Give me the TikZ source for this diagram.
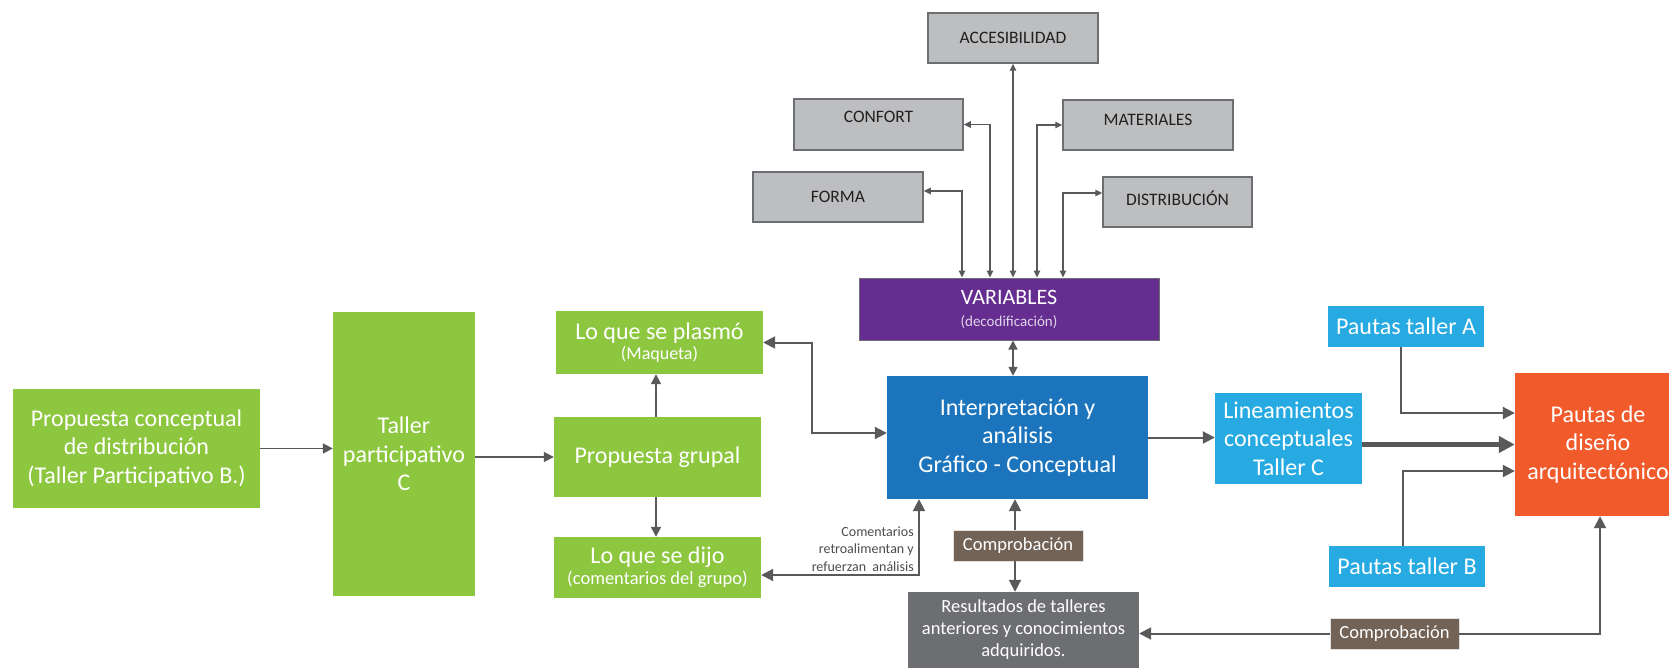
\documentclass[tikz,border=0pt]{standalone}
\usepackage{fontspec}
\setmainfont{Carlito}
\usetikzlibrary{arrows.meta,calc}
\definecolor{cgreen}{HTML}{8DC63F}
\definecolor{cpurple}{HTML}{662D91}
\definecolor{cblue}{HTML}{1C75BC}
\definecolor{clight}{HTML}{27AAE1}
\definecolor{corange}{HTML}{F15A2B}
\definecolor{cgray}{HTML}{BCBEC0}
\definecolor{cborder}{HTML}{6D6E71}
\definecolor{cbrown}{HTML}{736357}
\definecolor{cdark}{HTML}{6D6E71}
\definecolor{carrow}{HTML}{58595B}
\definecolor{ctext}{HTML}{231F20}
\begin{document}
\begin{tikzpicture}[x=1pt,y=-1pt,
  box/.style={inner sep=0pt, align=center, text=white, font=\fontsize{24}{28.5}\selectfont},
  graybox/.style={inner sep=0pt, align=center, fill=cgray, draw=cborder, line width=1.5pt, text=ctext, font=\fontsize{17.5}{20}\selectfont},
  tagbox/.style={inner sep=0pt, align=center, fill=cbrown, draw=white!80!cbrown, line width=0.8pt, text=white, font=\fontsize{18.5}{22}\selectfont},
  arr/.style={draw=carrow, line width=2pt, -{Triangle[length=12pt,width=12pt]}},
  biarr/.style={draw=carrow, line width=2pt, {Triangle[length=12pt,width=12pt]}-{Triangle[length=12pt,width=12pt]}},
  sbiarr/.style={draw=carrow, line width=1.4pt, {Triangle[length=7pt,width=6.5pt]}-{Triangle[length=7pt,width=6.5pt]}},
  thickarr/.style={draw=carrow, line width=5pt, -{Triangle[length=10pt,width=8pt]}}]
\useasboundingbox (0,0) rectangle (1669,668);
\fill[white] (0,0) rectangle (1669,668);

% left column
\node[box, fill=cgreen, minimum width=247pt, minimum height=119pt] (prop) at (136.5,448.5)
  {Propuesta conceptual\\de distribución\\(Taller Participativo B.)};
\node[box, fill=cgreen, minimum width=142pt, minimum height=284pt] (taller) at (404,454)
  {Taller\\participativo\\C};
\node[box, fill=cgreen, minimum width=207pt, minimum height=63pt] (plasmo) at (659.5,342.5)
  {Lo que se plasmó\\[-8pt]\fontsize{18}{21}\selectfont (Maqueta)};
\node[box, fill=cgreen, minimum width=207pt, minimum height=80pt] (grupal) at (657.5,457)
  {Propuesta grupal};
\node[box, fill=cgreen, minimum width=207pt, minimum height=61pt] (dijo) at (657.5,567.5)
  {Lo que se dijo\\[-8pt]\fontsize{18.5}{21}\selectfont (comentarios del grupo)};

% centre
\node[box, fill=cpurple, draw=cborder, line width=1pt, minimum width=300pt, minimum height=62pt, font=\fontsize{22}{23}\selectfont] (variables) at (1009,309)
  {VARIABLES\\[-1pt]\fontsize{15}{18}\selectfont\color{white!80!cpurple} (decodificación)};
\node[box, fill=cblue, minimum width=261pt, minimum height=123pt] (interp) at (1017.5,437.5)
  {Interpretación y\\análisis\\Gráfico - Conceptual};
\node[tagbox, minimum width=130pt, minimum height=31pt] (comp1) at (1018,545.5) {Comprobación};
\node[box, fill=cdark, minimum width=231pt, minimum height=76pt, font=\fontsize{18.5}{22}\selectfont] (result) at (1023.5,630)
  {Resultados de talleres\\anteriores y conocimientos\\adquiridos.};
\node[anchor=east, align=right, inner sep=0pt, text=cdark!70!black, font=\fontsize{14}{17.5}\selectfont] (coment) at (914,549)
  {Comentarios\\retroalimentan y\\refuerzan\ \ análisis};

% gray variables
\node[graybox, minimum width=170pt, minimum height=50pt] (acces) at (1013,38) {ACCESIBILIDAD};
\node[graybox, minimum width=169pt, minimum height=51pt, text depth=16pt] (confort) at (878.5,124.5) {CONFORT};
\node[graybox, minimum width=170pt, minimum height=50pt, text depth=10pt] (materiales) at (1148,125) {MATERIALES};
\node[graybox, minimum width=170pt, minimum height=50pt] (forma) at (838,197) {FORMA};
\node[graybox, minimum width=149pt, minimum height=50pt, text depth=8pt] (distrib) at (1177.5,202) {DISTRIBUCIÓN};

% right
\node[box, fill=clight, minimum width=147pt, minimum height=91pt] (lineam) at (1288.5,438.5)
  {Lineamientos\\conceptuales\\Taller C};
\node[box, fill=clight, minimum width=156pt, minimum height=41pt] (pautaA) at (1406,326.5) {Pautas taller A};
\node[box, fill=clight, minimum width=156pt, minimum height=41pt] (pautaB) at (1407,566.5) {Pautas taller B};
\node[box, fill=corange, minimum width=166pt, minimum height=143pt] (pautas) at (1598,444.5)
  {Pautas de\\diseño\\arquitectónico};
\node[tagbox, minimum width=129pt, minimum height=31pt] (comp2) at (1394.5,633.5) {Comprobación};

% connectors
\draw[arr, line width=1.6pt, -{Triangle[length=10pt,width=10pt]}] (prop.east) -- (prop.east -| taller.west);
\draw[arr, line width=1.6pt, -{Triangle[length=10pt,width=10pt]}] (taller.east |- grupal.west) -- (grupal.west);
\draw[arr, line width=1.6pt, -{Triangle[length=10pt,width=10pt]}] ([xshift=-1.5pt]grupal.north) -- ([xshift=-3.5pt]plasmo.south);
\draw[arr, line width=1.6pt, -{Triangle[length=10pt,width=10pt]}] ([xshift=-1.5pt]grupal.south) -- ([xshift=-1.5pt]dijo.north);
\draw[biarr] (plasmo.east) -- ++(49,0) |- ([yshift=4.5pt]interp.west);
\draw[biarr] ([yshift=-7.5pt]dijo.east) -| ([xshift=-98.5pt]interp.south);
\draw[sbiarr, line width=1.6pt, {Triangle[length=9pt,width=9pt]}-{Triangle[length=9pt,width=9pt]}] ([xshift=4pt]variables.south) -- ([xshift=-4.5pt]interp.north);
\draw[arr] ([xshift=-3pt]comp1.north) -- ([xshift=-3pt]comp1.north |- interp.south);
\draw[arr] ([xshift=-3pt]comp1.south) -- ([xshift=-3pt]comp1.south |- result.north);
\draw[arr] (interp.east) -- (interp.east -| lineam.west);
\draw[thickarr, -{Triangle[length=16pt,width=16pt]}] (lineam.east |- pautas.west) -- (pautas.west);
\draw[arr] ([xshift=-5pt]pautaA.south) |- ([yshift=31.5pt]pautas.west);
\draw[arr] ([xshift=-4pt]pautaB.north) |- ([yshift=-26.5pt]pautas.west);
\draw[arr] (comp2.west) -- (comp2.west -| result.east);
\draw[arr] (comp2.east) -| ([xshift=2pt]pautas.south);

% variable connectors
\draw[sbiarr] ([yshift=6pt]forma.east) -| ([xshift=-47pt]variables.north);
\draw[sbiarr] (confort.east) -| ([xshift=-19pt]variables.north);
\draw[sbiarr] (acces.south) -- (acces.south |- variables.north);
\draw[sbiarr] (materiales.west) -| ([xshift=28pt]variables.north);
\draw[sbiarr] ([yshift=9pt]distrib.west) -| ([xshift=54pt]variables.north);
\end{tikzpicture}
\end{document}
